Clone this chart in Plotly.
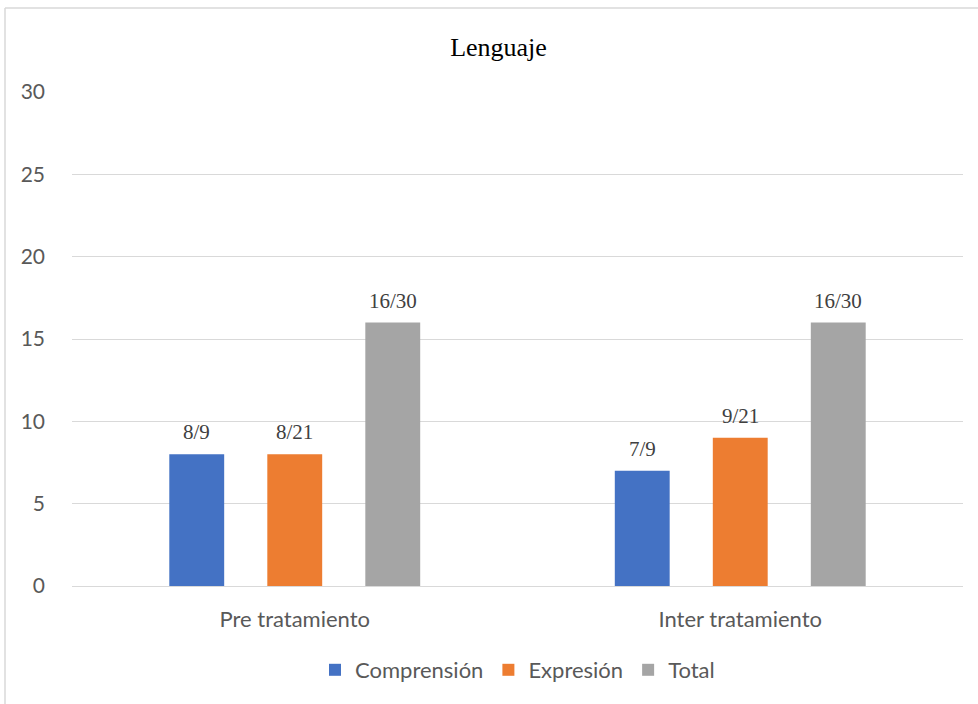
import plotly.graph_objects as go

categories = ["Pre tratamiento", "Inter tratamiento"]
series_names = ["Comprensión", "Expresión", "Total"]
comprension = [8, 7]
expresion = [8, 9]
total = [16, 16]
comprension_labels = ["8/9", "7/9"]
expresion_labels = ["8/21", "9/21"]
total_labels = ["16/30", "16/30"]
colors = ["#4472C4", "#ED7D31", "#A5A5A5"]
y_ticks = [0, 5, 10, 15, 20, 25, 30]

W, H = 978, 704
ml, mr, mt, mb = 72, 15, 92, 118
pw, ph = W - ml - mr, H - mt - mb
bargap, bargroupgap = 0.34, 0.44
slot = pw / len(categories) * (1 - bargap) / len(series_names)

def px(x):
    return (x - ml) / pw

def py(y):
    return (H - mb - y) / ph

fig = go.Figure()
annotations = []
all_vals = [comprension, expresion, total]
all_labs = [comprension_labels, expresion_labels, total_labels]
for i, (name, vals, labs, col) in enumerate(zip(series_names, all_vals, all_labs, colors)):
    fig.add_trace(go.Bar(
        x=categories, y=vals, name=name, marker=dict(color=col, line=dict(width=0)),
    ))
    for cat, v, lab in zip(categories, vals, labs):
        annotations.append(dict(
            x=cat, y=v, xref="x", yref="y", text=lab, showarrow=False,
            xshift=(i - (len(series_names) - 1) / 2) * slot, yshift=22,
            xanchor="center", yanchor="middle",
            font=dict(family="Liberation Serif", size=21, color="#404040"),
        ))

fig.update_layout(
    width=W, height=H,
    margin=dict(l=ml, r=mr, t=mt, b=mb),
    paper_bgcolor="white", plot_bgcolor="white",
    barmode="group", bargap=bargap, bargroupgap=bargroupgap,
    title=dict(text="Lenguaje", x=498.5 / W, xanchor="center", y=1 - 47 / H, yanchor="middle",
               font=dict(family="Liberation Serif", size=26, color="#000000")),
    legend=dict(orientation="h", x=0.5, xanchor="center", y=py(670), yanchor="middle",
                font=dict(family="Lato", size=22, color="#595959"), itemwidth=30,
                traceorder="normal"),
    showlegend=True,
    annotations=annotations,
    xaxis=dict(showgrid=False, showline=False, ticks="", ticklabelstandoff=18,
               tickfont=dict(family="Lato", size=22, color="#595959")),
    yaxis=dict(range=[0, 30], tickvals=y_ticks, showgrid=True, gridcolor="#D9D9D9",
               gridwidth=1.3, zeroline=True, zerolinecolor="#D9D9D9", zerolinewidth=1.3,
               showline=False, ticks="", ticklabelstandoff=26,
               tickfont=dict(family="Lato", size=21, color="#595959")),
    shapes=[
        dict(type="line", xref="paper", yref="paper", x0=px(5), x1=px(978), y0=py(8), y1=py(8),
             line=dict(color="#D9D9D9", width=1.5)),
        dict(type="line", xref="paper", yref="paper", x0=px(5), x1=px(5), y0=py(8), y1=py(704),
             line=dict(color="#D9D9D9", width=1.5)),
    ],
)

fig.write_html("out.html")
